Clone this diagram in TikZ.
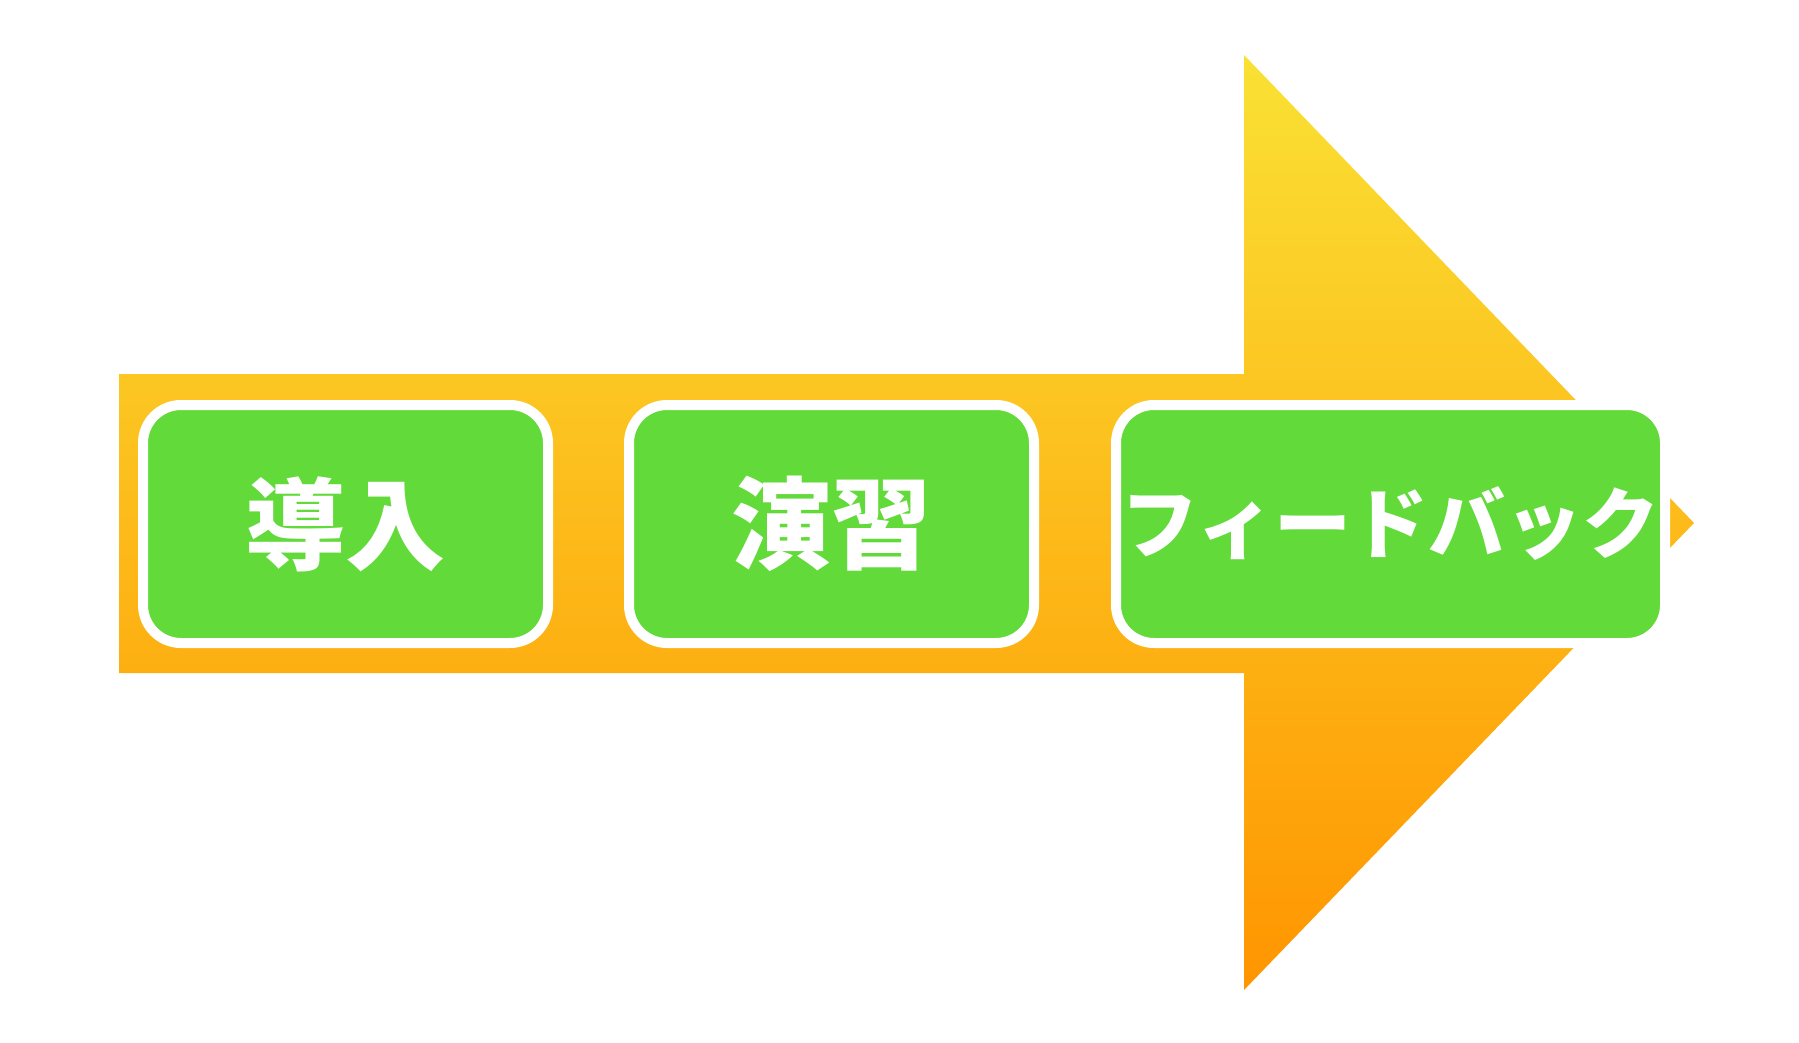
\documentclass[tikz,border=0pt]{standalone}
\usepackage{fontspec}
\usepackage{xcolor}
\usetikzlibrary{positioning}
\newfontfamily\jpfont{Noto Sans CJK JP}
\definecolor{flowyellow}{RGB}{250, 225, 52}
\definecolor{floworange}{RGB}{255, 149, 0}
\definecolor{stepgreen}{RGB}{98, 218, 58}
\tikzstyle{stepnode} = [rectangle, rounded corners=38pt, minimum width=405pt, minimum height=238pt, text centered, draw=white, line width=10pt, fill=stepgreen, text=white, font=\jpfont\bfseries\fontsize{100}{120}\selectfont]
\tikzstyle{widestepnode} = [stepnode, minimum width=549pt, font=\jpfont\bfseries\fontsize{77}{90}\selectfont]

\begin{document}
\begin{tikzpicture}[x=1pt, y=-1pt]
        \useasboundingbox (0,0) rectangle (1799,1043);

        % Big arrow
        \shade[top color=flowyellow, bottom color=floworange] (119,374) -- (1244,374) -- (1244,55) -- (1694,523) -- (1244,990) -- (1244,673) -- (119,673) -- cycle;

        % Steps
        \node[stepnode] (intro) at (345.5,524) {導入};
        \node[stepnode, right=71pt of intro] (practice) {演習};
        \node[widestepnode, right=72pt of practice] (feedback) {フィードバック};
    \end{tikzpicture}
\end{document}
